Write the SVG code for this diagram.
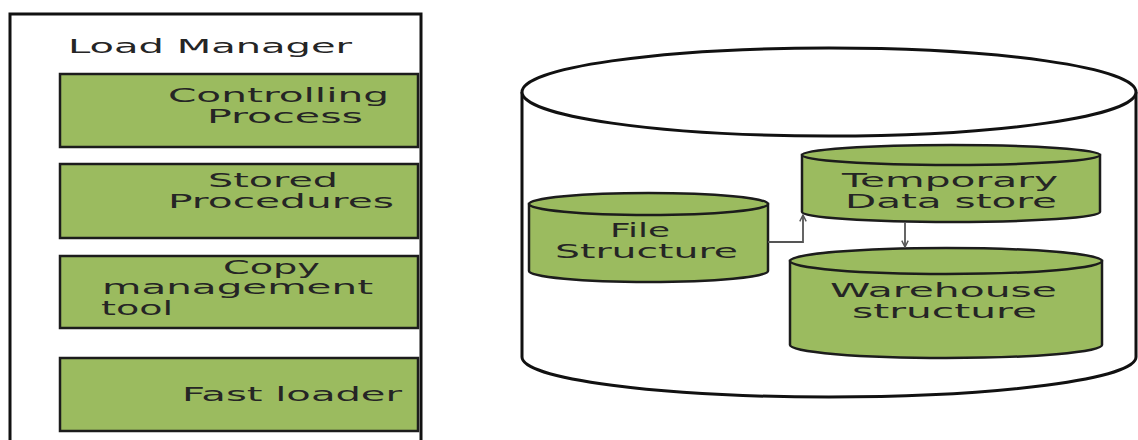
<svg xmlns="http://www.w3.org/2000/svg" width="1138" height="440" viewBox="0 0 1138 440">
<defs>
<style>
.t{font-family:"DejaVu Sans","Liberation Sans",sans-serif;font-size:19px;fill:#252525}
.box{fill:#9bbb5f;stroke:#1c1c1c;stroke-width:2.5}
.cyl{fill:#9bbb5f;stroke:#1c1c1c;stroke-width:2.5}
.big{fill:#ffffff;stroke:#111;stroke-width:3}
.con{fill:none;stroke:#555;stroke-width:1.8}
</style>
<marker id="ah" viewBox="0 0 10 10" refX="9" refY="5" markerWidth="8" markerHeight="8" markerUnits="userSpaceOnUse" orient="auto">
<path d="M1,1 L9,5 L1,9" fill="none" stroke="#555" stroke-width="1.8"/>
</marker>
</defs>
<rect width="1138" height="440" fill="#ffffff"/>

<g id="load-manager">
<rect x="10" y="14" width="411" height="440" fill="#ffffff" stroke="#111" stroke-width="3"/>
<text class="t" x="68" y="53" font-size="20" textLength="284" lengthAdjust="spacingAndGlyphs">Load Manager</text>
</g>

<g id="controlling-process">
<rect class="box" x="60" y="74" width="358" height="73"/>
<text class="t" x="168" y="102" textLength="221" lengthAdjust="spacingAndGlyphs">Controlling</text>
<text class="t" x="207" y="123" textLength="156" lengthAdjust="spacingAndGlyphs">Process</text>
</g>

<g id="stored-procedures">
<rect class="box" x="60" y="164" width="358" height="74"/>
<text class="t" x="208" y="187" textLength="130" lengthAdjust="spacingAndGlyphs">Stored</text>
<text class="t" x="168" y="208" textLength="226" lengthAdjust="spacingAndGlyphs">Procedures</text>
</g>

<g id="copy-management-tool">
<rect class="box" x="60" y="256" width="358" height="72"/>
<text class="t" x="223" y="274" textLength="97" lengthAdjust="spacingAndGlyphs">Copy</text>
<text class="t" x="102" y="294" textLength="271" lengthAdjust="spacingAndGlyphs">management</text>
<text class="t" x="101" y="315" textLength="72" lengthAdjust="spacingAndGlyphs">tool</text>
</g>

<g id="fast-loader">
<rect class="box" x="60" y="358" width="358" height="73"/>
<text class="t" x="182" y="401" textLength="220" lengthAdjust="spacingAndGlyphs">Fast loader</text>
</g>

<g id="warehouse-db">
<path class="big" d="M522,92 L522,357 A307,40 0 0 0 1136,357 L1136,92"/>
<ellipse class="big" cx="829" cy="92" rx="307" ry="44"/>
</g>

<g id="file-structure">
<path class="cyl" d="M529,204 L529,271 A119.5,11 0 0 0 768,271 L768,204 Z"/>
<ellipse class="cyl" cx="648.5" cy="204" rx="119.5" ry="11"/>
<text class="t" x="610" y="237" textLength="60" lengthAdjust="spacingAndGlyphs">File</text>
<text class="t" x="555" y="258" textLength="183" lengthAdjust="spacingAndGlyphs">Structure</text>
</g>

<g id="temporary-data-store">
<path class="cyl" d="M802,155 L802,212 A149,10 0 0 0 1100,212 L1100,155 Z"/>
<ellipse class="cyl" cx="951" cy="155" rx="149" ry="10"/>
<text class="t" x="842" y="187" textLength="216" lengthAdjust="spacingAndGlyphs">Temporary</text>
<text class="t" x="845" y="208" textLength="212" lengthAdjust="spacingAndGlyphs">Data store</text>
</g>

<g id="warehouse-structure">
<path class="cyl" d="M790,261 L790,345 A156,13 0 0 0 1102,345 L1102,261 Z"/>
<ellipse class="cyl" cx="946" cy="261" rx="156" ry="13"/>
<text class="t" x="830" y="297" textLength="227" lengthAdjust="spacingAndGlyphs">Warehouse</text>
<text class="t" x="852" y="318" textLength="185" lengthAdjust="spacingAndGlyphs">structure</text>
</g>

<g id="connectors">
<path class="con" d="M768,242 H803 V215" marker-end="url(#ah)"/>
<path class="con" d="M905,222 V247" marker-end="url(#ah)"/>
</g>
</svg>
